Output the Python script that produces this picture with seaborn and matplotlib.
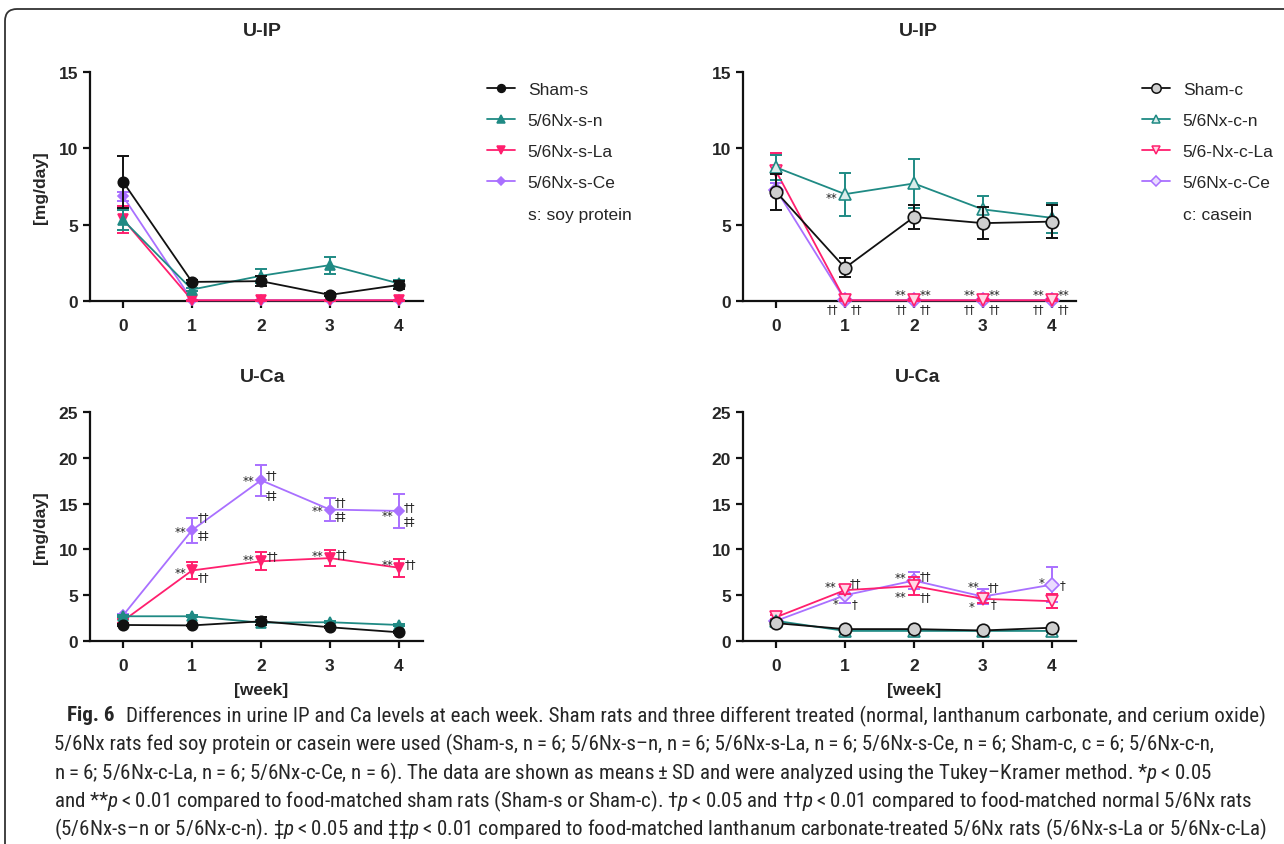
import matplotlib
matplotlib.use("Agg")
import matplotlib.pyplot as plt
from matplotlib import font_manager
from matplotlib.patches import FancyBboxPatch
from matplotlib.lines import Line2D
from matplotlib.transforms import IdentityTransform
import seaborn as sns

# data (means and SD)
weeks = [0, 1, 2, 3, 4]
week_ticks = ["0", "1", "2", "3", "4"]

# U-IP, soy protein
ip_sham_s = [7.8, 1.25, 1.3, 0.4, 1.05]
ip_sham_s_sd = [1.7, 0.1, 0.35, 0.1, 0.25]
ip_n_s = [5.3, 0.75, 1.65, 2.35, 1.15]
ip_n_s_sd = [0.65, 0.1, 0.45, 0.55, 0.2]
ip_la_s = [5.35, 0.05, 0.05, 0.05, 0.05]
ip_la_s_sd = [0.9, 0.03, 0.03, 0.03, 0.03]
ip_ce_s = [6.85, 0.05, 0.05, 0.05, 0.05]
ip_ce_s_sd = [0.3, 0.03, 0.03, 0.03, 0.03]

# U-IP, casein
ip_sham_c = [7.15, 2.17, 5.5, 5.1, 5.2]
ip_sham_c_sd = [1.2, 0.63, 0.8, 1.07, 1.1]
ip_n_c = [8.75, 7.0, 7.7, 6.0, 5.45]
ip_n_c_sd = [0.8, 1.4, 1.6, 0.9, 1.0]
ip_la_c = [8.5, 0.05, 0.05, 0.05, 0.05]
ip_la_c_sd = [1.2, 0.05, 0.05, 0.05, 0.05]
ip_ce_c = [7.3, 0.05, 0.05, 0.05, 0.05]
ip_ce_c_sd = [0.4, 0.03, 0.03, 0.03, 0.03]

# U-Ca, soy protein
ca_sham_s = [1.75, 1.7, 2.15, 1.5, 0.95]
ca_sham_s_sd = [0.1, 0.1, 0.45, 0.1, 0.1]
ca_n_s = [2.7, 2.7, 2.0, 2.05, 1.75]
ca_n_s_sd = [0.1, 0.1, 0.3, 0.1, 0.1]
ca_la_s = [2.2, 7.7, 8.7, 9.05, 8.0]
ca_la_s_sd = [0.2, 0.95, 1.0, 0.85, 1.0]
ca_ce_s = [2.8, 12.1, 17.55, 14.35, 14.2]
ca_ce_s_sd = [0.2, 1.35, 1.7, 1.25, 1.85]

# U-Ca, casein
ca_sham_c = [1.95, 1.3, 1.3, 1.15, 1.45]
ca_sham_c_sd = [0.1, 0.1, 0.1, 0.1, 0.1]
ca_n_c = [2.2, 1.1, 1.1, 1.1, 1.1]
ca_n_c_sd = [0.1, 0.1, 0.1, 0.1, 0.1]
ca_la_c = [2.6, 5.55, 6.0, 4.6, 4.35]
ca_la_c_sd = [0.2, 0.4, 0.95, 0.5, 0.75]
ca_ce_c = [2.2, 5.0, 6.6, 4.85, 6.15]
ca_ce_c_sd = [0.2, 0.9, 0.9, 0.85, 1.9]

soy_labels = ["Sham-s", "5/6Nx-s-n", "5/6Nx-s-La", "5/6Nx-s-Ce", "s: soy protein"]
cas_labels = ["Sham-c", "5/6Nx-c-n", "5/6-Nx-c-La", "5/6Nx-c-Ce", "c: casein"]

# significance marks: (week, value, text)
sig_tl = []
sig_tr = [(0.81, 6.8, "**"),
          (1.8, 0.45, "**"), (2.17, 0.45, "**"), (2.81, 0.45, "**"), (3.17, 0.45, "**"),
          (3.81, 0.45, "**"), (4.17, 0.45, "**"),
          (0.82, -0.5, "††"), (1.17, -0.5, "††"), (1.82, -0.5, "††"), (2.17, -0.5, "††"),
          (2.81, -0.5, "††"), (3.17, -0.5, "††"), (3.81, -0.5, "††"), (4.17, -0.5, "††")]
sig_bl = [(0.83, 11.9, "**"), (1.17, 13.6, "††"), (1.17, 11.6, "‡‡"),
          (1.82, 17.5, "**"), (2.15, 18.2, "††"), (2.15, 16.0, "‡‡"),
          (2.82, 14.2, "**"), (3.15, 15.2, "††"), (3.15, 13.75, "‡‡"),
          (3.84, 13.7, "**"), (4.16, 14.7, "††"), (4.16, 13.1, "‡‡"),
          (0.83, 7.5, "**"), (1.17, 7.05, "††"),
          (1.82, 8.95, "**"), (2.16, 9.3, "††"),
          (2.82, 9.3, "**"), (3.17, 9.5, "††"),
          (3.83, 8.4, "**"), (4.17, 8.5, "††")]
sig_br = [(0.79, 5.95, "**"), (1.15, 6.4, "††"), (0.87, 4.06, "*"), (1.14, 4.06, "†"),
          (1.81, 6.9, "**"), (2.16, 7.15, "††"), (1.81, 4.86, "**"), (2.16, 4.86, "††"),
          (2.86, 5.95, "**"), (3.15, 5.95, "††"), (2.84, 3.8, "*"), (3.15, 4.06, "†"),
          (3.85, 6.35, "*"), (4.15, 6.17, "†")]

caption = [
    "Differences in urine IP and Ca levels at each week. Sham rats and three different treated (normal, lanthanum carbonate, and cerium oxide)",
    "5/6Nx rats fed soy protein or casein were used (Sham-s, n\u2009=\u20096; 5/6Nx-s\u2013n, n\u2009=\u20096; 5/6Nx-s-La, n\u2009=\u20096; 5/6Nx-s-Ce, n\u2009=\u20096; Sham-c, c\u2009=\u20096; 5/6Nx-c-n,",
    "n\u2009=\u20096; 5/6Nx-c-La, n\u2009=\u20096; 5/6Nx-c-Ce, n\u2009=\u20096). The data are shown as means\u2009\u00b1\u2009SD and were analyzed using the Tukey\u2013Kramer method. *$p$\u2009<\u20090.05",
    "and **$p$\u2009<\u20090.01 compared to food-matched sham rats (Sham-s or Sham-c). \u2020$p$\u2009<\u20090.05 and \u2020\u2020$p$\u2009<\u20090.01 compared to food-matched normal 5/6Nx rats",
    "(5/6Nx-s\u2013n or 5/6Nx-c-n). \u2021$p$\u2009<\u20090.05 and \u2021\u2021$p$\u2009<\u20090.01 compared to food-matched lanthanum carbonate-treated 5/6Nx rats (5/6Nx-s-La or 5/6Nx-c-La)",
]

# pick a narrow face for the caption if one is installed
installed = {f.name for f in font_manager.fontManager.ttflist}
cap_family = "DejaVu Sans"
for name in ["Liberation Sans Narrow", "DejaVu Sans Condensed", "Roboto Condensed",
             "Open Sans Condensed", "Noto Sans Condensed", "Arial Narrow", "Roboto", "Liberation Sans"]:
    if name in installed:
        cap_family = name
        break
cap_font = [cap_family, "DejaVu Sans"]

sns.set_style("ticks")
plt.rcParams["font.family"] = ["Liberation Sans", "DejaVu Sans"]
plt.rcParams["mathtext.fontset"] = "custom"
plt.rcParams["mathtext.it"] = cap_family + ":italic"
plt.rcParams["mathtext.rm"] = cap_family

black = "#111111"
teal = "#1f8a84"
pink = "#ff1f6e"
purple = "#a970ff"

W, H = 1284, 845
fig = plt.figure(figsize=(W / 100, H / 100), dpi=100)


def px_axes(x0, y_top, w, h):
    return fig.add_axes([x0 / W, 1 - (y_top + h) / H, w / W, h / H])


ax_tl = px_axes(90, 73, 333, 229)
ax_tr = px_axes(743, 73, 333, 229)
ax_bl = px_axes(90, 413, 333, 229)
ax_br = px_axes(743, 413, 333, 229)

soy_style = [
    dict(marker="o", ms=7.5, mfc=black, mec=black, color=black),
    dict(marker="^", ms=7, mfc=teal, mec=teal, color=teal),
    dict(marker="v", ms=7, mfc=pink, mec=pink, color=pink),
    dict(marker="D", ms=5.5, mfc=purple, mec=purple, color=purple),
]
cas_style = [
    dict(marker="o", ms=9, mfc="#cfcfcf", mec=black, color=black),
    dict(marker="^", ms=8.5, mfc="#d9ecea", mec=teal, color=teal),
    dict(marker="v", ms=8.5, mfc="#ffd9e6", mec=pink, color=pink),
    dict(marker="D", ms=7, mfc="#eadcff", mec=purple, color=purple),
]


def draw_panel(ax, series, styles, ymax, sigs):
    # draw Ce, La, n, sham so that sham sits on top
    for i in [3, 2, 1, 0]:
        mean, sd = series[i]
        st = styles[i]
        z = 3 + (3 - i)
        ax.errorbar(weeks, mean, yerr=sd, fmt="none", ecolor=st["color"],
                    elinewidth=1.4, capsize=4.5, capthick=1.4, zorder=z, clip_on=False)
        sns.lineplot(x=weeks, y=mean, ax=ax, color=st["color"], linewidth=1.3,
                     marker=st["marker"], markersize=st["ms"],
                     markerfacecolor=st["mfc"], markeredgecolor=st["mec"],
                     markeredgewidth=1.2, zorder=z + 0.5, clip_on=False)
    for x, y, t in sigs:
        ax.text(x, y, t, ha="center", va="center", fontsize=8.5, color="#222222",
                family=["DejaVu Sans"], zorder=10, clip_on=False)
    ax.set_xlim(-0.48, 4.35)
    ax.set_ylim(0, ymax)
    ax.set_xticks(weeks)
    ax.set_xticklabels(week_ticks)
    ax.set_yticks(range(0, ymax + 1, 5))
    ax.set_xlabel("")
    ax.set_ylabel("")
    sns.despine(ax=ax)
    for s in ["left", "bottom"]:
        ax.spines[s].set_linewidth(1.6)
        ax.spines[s].set_color(black)
    ax.tick_params(axis="both", length=5, width=1.6, color=black, labelsize=12.5)
    ax.tick_params(axis="x", pad=7)
    for lab in ax.get_xticklabels() + ax.get_yticklabels():
        lab.set_fontweight("bold")


draw_panel(ax_tl, [(ip_sham_s, ip_sham_s_sd), (ip_n_s, ip_n_s_sd), (ip_la_s, ip_la_s_sd),
                   (ip_ce_s, ip_ce_s_sd)], soy_style, 15, sig_tl)
draw_panel(ax_tr, [(ip_sham_c, ip_sham_c_sd), (ip_n_c, ip_n_c_sd), (ip_la_c, ip_la_c_sd),
                   (ip_ce_c, ip_ce_c_sd)], cas_style, 15, sig_tr)
draw_panel(ax_bl, [(ca_sham_s, ca_sham_s_sd), (ca_n_s, ca_n_s_sd), (ca_la_s, ca_la_s_sd),
                   (ca_ce_s, ca_ce_s_sd)], soy_style, 25, sig_bl)
draw_panel(ax_br, [(ca_sham_c, ca_sham_c_sd), (ca_n_c, ca_n_c_sd), (ca_la_c, ca_la_c_sd),
                   (ca_ce_c, ca_ce_c_sd)], cas_style, 25, sig_br)

# titles and axis labels
for x, y, t in [(262, 32, "U-IP"), (918, 32, "U-IP"), (263, 378, "U-Ca"), (918, 378, "U-Ca")]:
    fig.text(x / W, 1 - y / H, t, ha="center", va="center", fontsize=14, fontweight="bold")
for ax in [ax_tl, ax_bl]:
    ax.set_ylabel("[mg/day]", fontsize=12.5, fontweight="bold")
    ax.yaxis.set_label_coords(-0.125, 0.5)
for ax in [ax_bl, ax_br]:
    ax.set_xlabel("[week]", fontsize=12.5, fontweight="bold")
    ax.xaxis.set_label_coords(0.515, -0.18)


# legends
def legend_handles(styles):
    hs = [Line2D([], [], color=st["color"], lw=1.3, marker=st["marker"],
                 markersize=st["ms"] * 0.75, markerfacecolor=st["mfc"],
                 markeredgecolor=st["mec"], markeredgewidth=1.1) for st in styles]
    hs.append(Line2D([], [], linestyle="none"))
    return hs


for x0, handles, labels in [(480, legend_handles(soy_style), soy_labels),
                            (1135, legend_handles(cas_style), cas_labels)]:
    fig.legend(handles, labels, loc="upper left", bbox_to_anchor=(x0 / W, 1 - 76 / H),
               frameon=False, fontsize=12.5, handlelength=1.6, handletextpad=0.75,
               labelspacing=0.92, borderaxespad=0)

# caption, sized so the longest line reaches the right side like the original
line_y = [716, 744, 773, 801, 829]
cap_size = 13.5
t_fig = fig.text(67 / W, 1 - line_y[0] / H, "Fig. 6", fontsize=cap_size, fontweight="bold",
                 family=cap_font, va="center")
cap_texts = [fig.text(137 / W, 1 - line_y[0] / H, caption[0], fontsize=cap_size,
                      family=cap_font, va="center")]
for y, line in zip(line_y[1:], caption[1:]):
    cap_texts.append(fig.text(54 / W, 1 - y / H, line, fontsize=cap_size,
                              family=cap_font, va="center"))
renderer = fig.canvas.get_renderer()
ratio = min((1268 - t.get_window_extent(renderer).x0) / t.get_window_extent(renderer).width
            for t in cap_texts[1:])
ratio = min(ratio, 1.2)
for t in cap_texts + [t_fig]:
    t.set_fontsize(cap_size * ratio)
fig_w = t_fig.get_window_extent(renderer)
cap_texts[0].set_x((fig_w.x1 + 11) / W)
# the first line starts later, so let it shrink on its own if needed
first = cap_texts[0].get_window_extent(renderer)
if first.x1 > 1268:
    cap_texts[0].set_fontsize(cap_size * ratio * (1268 - first.x0) / first.width)

# rounded frame around the figure
frame = FancyBboxPatch((5, -60), W + 100, H - 10 + 60, boxstyle="round,pad=0,rounding_size=12",
                       transform=IdentityTransform(), fill=False, edgecolor="#333333",
                       linewidth=1.3)
fig.patches.append(frame)

fig.savefig("out.png", dpi=100)
